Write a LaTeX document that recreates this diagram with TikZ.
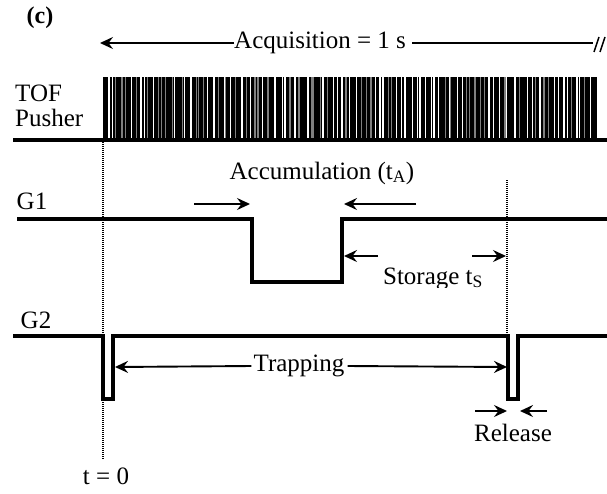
\documentclass[tikz,border=0pt]{standalone}
\usepackage{fontspec}
\setmainfont{Liberation Serif}
\usetikzlibrary{arrows.meta}
\begin{document}
\begin{tikzpicture}[x=1pt,y=-1pt,
  sig/.style={line width=3.2pt, line join=miter},
  arr/.style={line width=1.9pt, -{Stealth[length=13pt,width=12pt,inset=4.5pt]}},
  plain/.style={line width=1.9pt},
  dots/.style={line width=1.6pt, dash pattern=on 1pt off 1pt},
  lbl/.style={font=\fontsize{25}{28}\selectfont, inner sep=0pt}]
\useasboundingbox (0,0) rectangle (607,493);
% title
\node[lbl, font=\fontsize{24}{26}\selectfont\bfseries] (c) at (40,18) {(c)};
% acquisition
\node[lbl, anchor=west] (acq) at (234,43) {Acquisition = 1 s};
\coordinate (acqL) at (100,43);
\coordinate (acqR1) at (412,43);
\coordinate (acqR2) at (593,43);
\draw[arr] (acq.west) -- (acqL);
\draw[plain] (acqR1) -- (acqR2);
\draw[line width=1.5pt] (594,52) -- (599,37) (600,52) -- (605,37);
% TOF pusher
\node[lbl, align=left, anchor=north west] (tof) at (15,85) {TOF\\[-3pt]Pusher};
\fill (103,77) rectangle (597,140);
\pgfmathsetseed{11}
\foreach \i in {0,...,105}{
  \pgfmathsetmacro\xx{105+\i*4.6+rnd*4}
  \pgfmathsetmacro\ww{0.5+rnd*1.5}
  \pgfmathtruncatemacro\gl{rnd<0.35 ? 50 : 0}
  \fill[black!\gl] (\xx,77) rectangle ({\xx+\ww},140);
}
\coordinate (tofA) at (13,140);
\coordinate (tofB) at (607,140);
\draw[sig] (tofA) -- (tofB);
% G1
\node[lbl] (g1) at (32,201) {G1};
\node[lbl] (accum) at (322,173) {Accumulation (t\textsubscript{A})};
\coordinate (g1a) at (17,219);
\coordinate (g1b) at (252,219);
\coordinate (g1c) at (342,219);
\coordinate (g1d) at (607,219);
\draw[sig] (g1a) -- (g1b) -- (252,282) -- (342,282) -- (g1c) -- (g1d);
\coordinate (accL) at (194,204);
\coordinate (accR) at (416,204);
\draw[arr] (accL) -- (250,204);
\draw[arr] (accR) -- (344,204);
% storage
\coordinate (stL) at (378,256);
\coordinate (stR) at (472,256);
\draw[arr] (stL) -- (344,256);
\draw[arr] (stR) -- (506,256);
\begin{scope}
\clip (370,262) rectangle (500,287);
\node[lbl, anchor=base] (stor) at (433,284) {Storage t\textsubscript{S}};
\end{scope}
% G2
\node[lbl] (g2) at (36,320) {G2};
\coordinate (g2a) at (13,336);
\coordinate (g2b) at (607,336);
\draw[sig] (g2a) -- (103,336) -- (103,399) -- (113,399) -- (113,336)
  -- (508,336) -- (508,399) -- (518,399) -- (518,336) -- (g2b);
\node[lbl] (trap) at (299,366) {Trapping};
\draw[arr] ([xshift=-2pt]trap.west) -- (115,367);
\draw[arr] ([xshift=3pt]trap.east) -- (507,367);
\coordinate (relL) at (475,411);
\coordinate (relR) at (547,411);
\draw[arr] (relL) -- (507,411);
\draw[arr] (relR) -- (520,411);
\node[lbl] (rel) at (513,433) {Release};
% dotted markers
\coordinate (d1a) at (103,142);
\coordinate (d1b) at (103,460);
\draw[dots] (d1a) -- (d1b);
\coordinate (d2a) at (507,180);
\coordinate (d2b) at (507,335);
\draw[dots] (d2a) -- (d2b);
\node[lbl] (t0) at (106,476) {t = 0};
\end{tikzpicture}
\end{document}
